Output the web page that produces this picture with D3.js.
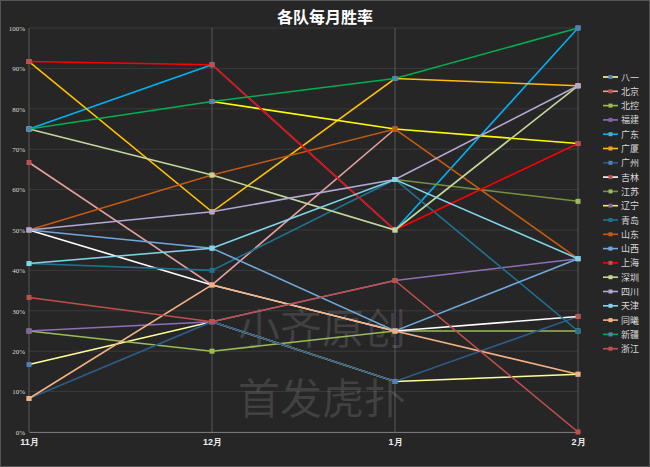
<!DOCTYPE html>
<html><head><meta charset="utf-8">
<script src="https://cdn.jsdelivr.net/npm/d3@7"></script>
<style>
body{margin:0;background:#fff}
svg{display:block;font-family:"Noto Sans CJK SC","DejaVu Sans",sans-serif}
</style></head>
<body><div id="chart"></div>
<script>
// months
var months = ["11月", "12月", "1月", "2月"];
var yTicks = [0, 10, 20, 30, 40, 50, 60, 70, 80, 90, 100];

// win rate per team (null = no games)
var teams = ["八一", "北京", "北控", "福建", "广东", "广厦", "广州", "吉林", "江苏", "辽宁",
    "青岛", "山东", "山西", "上海", "深圳", "四川", "天津", "同曦", "新疆", "浙江"];
var colors = ["#ffff99", "#e6a0a0", "#9bbb59", "#8e6fb5", "#00b0f0", "#ffc000", "#2e5c8a", "#ffffff", "#76923c", "#ffff00",
    "#1f7391", "#c55a11", "#6fa8dc", "#ff0000", "#c3d69b", "#b4a7d6", "#7fd4e8", "#f4b183", "#00b050", "#c0504d"];
var markerColors = ["#4f81bd", "#c0504d", "#9bbb59", "#8064a2", "#4bacc6", "#f79646", "#4f81bd", "#c0504d", "#9bbb59", "#8064a2",
    "#1f7391", "#c55a11", "#6fa8dc", "#c0504d", "#c3d69b", "#b4a7d6", "#7fd4e8", "#f4b183", "#4f81bd", "#c0504d"];
var values = [
    [16.7, 27.3, 12.5, 14.3],
    [66.7, 36.4, 75, null],
    [25, 20, 25, 25],
    [25, 27.3, 37.5, 42.9],
    [75, 90.9, 50, 100],
    [91.7, 54.5, 87.5, 85.7],
    [8.3, 27.3, 12.5, 28.6],
    [50, 36.4, 25, 28.6],
    [null, null, 62.5, 57.1],
    [null, 81.8, 75, 71.4],
    [41.7, 40, 62.5, 25],
    [50, 63.6, 75, 42.9],
    [50, 45.5, 25, 42.9],
    [91.7, 90.9, 50, 71.4],
    [75, 63.6, 50, 85.7],
    [50, 54.5, 62.5, 85.7],
    [41.7, 45.5, 62.5, 42.9],
    [8.3, 36.4, 25, 14.3],
    [75, 81.8, 87.5, 100],
    [33.3, 27.3, 37.5, 0]
];

var W = 650, H = 467;
var svg = d3.select("#chart").append("svg").attr("width", W).attr("height", H);
svg.append("rect").attr("x", 0.5).attr("y", 0.5).attr("width", W - 1).attr("height", H - 1)
    .attr("fill", "#262626").attr("stroke", "#555");

var x = d3.scalePoint().domain(months).range([29, 578]);
var y = d3.scaleLinear().domain([0, 100]).range([432, 28]);

// grid
svg.append("g").selectAll("line").data(yTicks).enter().append("line")
    .attr("x1", 29).attr("x2", 578)
    .attr("y1", function (d) { return y(d); }).attr("y2", function (d) { return y(d); })
    .attr("stroke", "#3a3a3a");
svg.append("g").selectAll("line").data(months).enter().append("line")
    .attr("x1", function (d) { return x(d); }).attr("x2", function (d) { return x(d); })
    .attr("y1", y(0)).attr("y2", y(100))
    .attr("stroke", "#595959");

// axes
var gy = svg.append("g").attr("transform", "translate(29,0)")
    .call(d3.axisLeft(y).tickValues(yTicks).tickSize(0).tickPadding(4).tickFormat(function (d) { return d + "%"; }));
gy.select(".domain").remove();
gy.selectAll("text").attr("fill", "#d9d9d9").style("font-size", "7px").style("font-family", "Liberation Serif, serif");
var gx = svg.append("g").attr("transform", "translate(0," + y(0) + ")")
    .call(d3.axisBottom(x).tickSize(0).tickPadding(7));
gx.select(".domain").attr("stroke", "#777");
gx.selectAll("text").attr("fill", "#eee").style("font-size", "9px").style("font-weight", "bold");

// watermark
svg.append("text").attr("x", 322).attr("y", 344).attr("text-anchor", "middle")
    .attr("fill", "#ffffff").attr("fill-opacity", 0.12).style("font-size", "42px").text("小齐原创");
svg.append("text").attr("x", 322).attr("y", 414).attr("text-anchor", "middle")
    .attr("fill", "#ffffff").attr("fill-opacity", 0.12).style("font-size", "42px").text("首发虎扑");

// title
svg.append("text").attr("x", 325).attr("y", 23).attr("text-anchor", "middle")
    .attr("fill", "#fff").style("font-size", "16px").style("font-weight", "bold").text("各队每月胜率");

// lines
var line = d3.line()
    .defined(function (d) { return d != null; })
    .x(function (d, i) { return x(months[i]); })
    .y(function (d) { return y(d); });
teams.forEach(function (t, k) {
    svg.append("path").datum(values[k])
        .attr("fill", "none").attr("stroke", colors[k]).attr("stroke-width", 1.6)
        .attr("d", line);
    svg.append("g").selectAll("rect")
        .data(values[k].map(function (v, i) { return { v: v, i: i }; }).filter(function (d) { return d.v != null; }))
        .enter().append("rect")
        .attr("x", function (d) { return x(months[d.i]) - 2.5; })
        .attr("y", function (d) { return y(d.v) - 2.5; })
        .attr("width", 5).attr("height", 5)
        .attr("fill", markerColors[k]);
});

// legend
var lg = svg.append("g").selectAll("g").data(teams).enter().append("g")
    .attr("transform", function (d, i) { return "translate(603," + (77 + i * 14.3) + ")"; });
lg.append("line").attr("x1", 0).attr("x2", 15)
    .attr("stroke", function (d, i) { return colors[i]; }).attr("stroke-width", 1.6);
lg.append("rect").attr("x", 5.5).attr("y", -2).attr("width", 4).attr("height", 4)
    .attr("fill", function (d, i) { return markerColors[i]; });
lg.append("text").attr("x", 18).attr("y", 3.5).attr("fill", "#d9d9d9")
    .style("font-size", "9px").text(function (d) { return d; });
</script>
</body></html>
